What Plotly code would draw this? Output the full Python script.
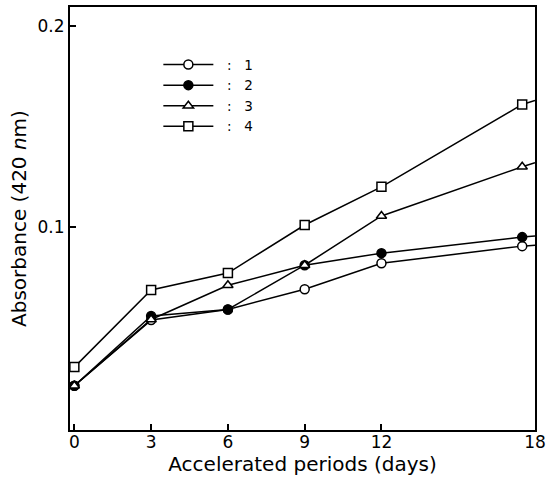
import plotly.graph_objects as go

# Accelerated periods (days); last marker sits just inside the 18-day frame
days = [0, 3, 6, 9, 12, 17.5]
series_names = ["1", "2", "3", "4"]
s1 = [0.021, 0.0537, 0.059, 0.069, 0.082, 0.0905]
s2 = [0.021, 0.0557, 0.059, 0.081, 0.087, 0.095]
s3 = [0.021, 0.054, 0.071, 0.081, 0.1055, 0.130]
s4 = [0.0303, 0.0687, 0.0771, 0.101, 0.120, 0.161]
# where each line meets the right frame (18 days)
frame_day = 18
frame_vals = [0.091, 0.0955, 0.132, 0.163]
x_ticks = [0, 3, 6, 9, 12, 18]
y_ticks = [0.1, 0.2]

styles = [
    dict(symbol="circle", color="white"),
    dict(symbol="circle", color="black"),
    dict(symbol="triangle-up", color="white"),
    dict(symbol="square", color="white"),
]
nb = "\u00a0"

fig = go.Figure()
for vals, fv in zip([s1, s2, s3, s4], frame_vals):
    fig.add_trace(go.Scatter(
        x=[days[-1], frame_day], y=[vals[-1], fv], mode="lines",
        line=dict(color="black", width=1.5), showlegend=False,
        hoverinfo="skip",
    ))
for name, vals, st in zip(series_names, [s1, s2, s3, s4], styles):
    fig.add_trace(go.Scatter(
        x=days, y=vals, mode="lines+markers",
        name=nb * 2 + ":" + nb * 3 + name,
        line=dict(color="black", width=1.5),
        marker=dict(symbol=st["symbol"], color=st["color"], size=9,
                    line=dict(color="black", width=1.5)),
    ))

font = "DejaVu Sans"
fig.update_layout(
    width=557, height=481,
    margin=dict(l=70, r=22, t=5, b=51),
    paper_bgcolor="white", plot_bgcolor="white",
    font=dict(family=font, size=17, color="black"),
    showlegend=True,
    legend=dict(x=0.19, y=0.9, xanchor="left", yanchor="top",
                bgcolor="rgba(0,0,0,0)", font=dict(size=13.5),
                itemwidth=50, tracegroupgap=0),
)
fig.update_xaxes(
    range=[-0.17, 18], tickvals=x_ticks, ticks="inside", ticklen=6,
    tickwidth=1.5, tickcolor="black", showline=True, linecolor="black",
    linewidth=2, mirror=True, showgrid=False, zeroline=False,
    ticklabelstandoff=-4,
    title=dict(text="Accelerated periods (days)", standoff=2),
)
fig.update_yaxes(
    range=[-0.001, 0.2095], tickvals=y_ticks, ticktext=["0.1", "0.2"],
    ticks="inside", ticklen=6, tickwidth=1.5, tickcolor="black",
    showline=True, linecolor="black", linewidth=2, mirror=True,
    showgrid=False, zeroline=False,
    title=dict(text="Absorbance (420 <i>n</i>m)", standoff=6),
)

fig.write_html("out.html")
